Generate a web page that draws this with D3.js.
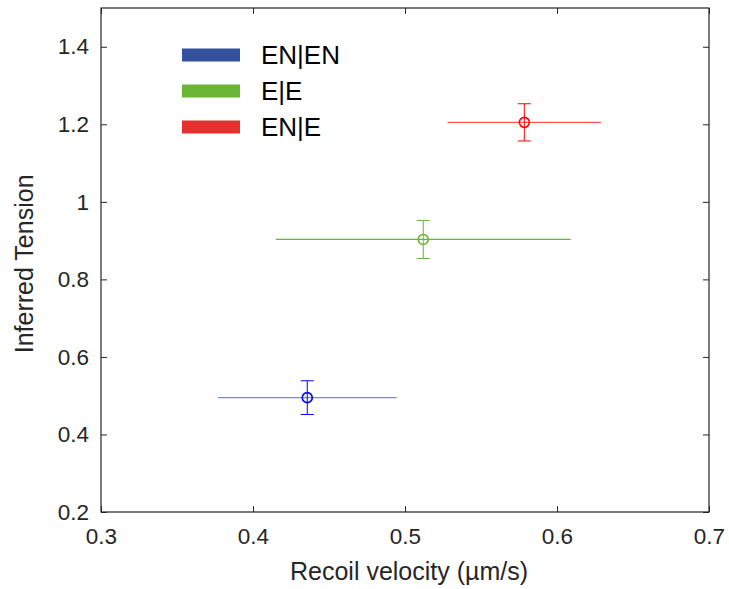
<!DOCTYPE html>
<html>
<head>
<meta charset="utf-8">
<script src="https://cdn.jsdelivr.net/npm/d3@7"></script>
<style>
  body { margin: 0; background: #fff; }
  text { font-family: "Liberation Sans", Arial, sans-serif; fill: #262626; }
</style>
</head>
<body>
<svg id="chart"></svg>
<script>
// data
var groups = ["EN|EN", "E|E", "EN|E"];
var velocity = [0.4357, 0.512, 0.5785];
var velLow = [0.377, 0.415, 0.528];
var velHigh = [0.4945, 0.609, 0.629];
var tension = [0.495, 0.903, 1.205];
var tensionErr = [0.0435, 0.049, 0.048];
var markColors = ["#0000ff", "#6ab536", "#ff0000"];
var hbarColors = ["#8080ff", "#6ab536", "#ff5555"];
var legendColors = ["#34509f", "#6ab536", "#e53030"];
var xTicks = [0.3, 0.4, 0.5, 0.6, 0.7];
var yTicks = [0.2, 0.4, 0.6, 0.8, 1, 1.2, 1.4];

var W = 729, H = 589;
var margin = {top: 8, right: 20, bottom: 77, left: 101},
  width = W - margin.left - margin.right,
  height = H - margin.top - margin.bottom;

var svg = d3.select("#chart")
  .attr("width", W)
  .attr("height", H)
.append("g")
  .attr("transform", "translate(" + margin.left + "," + margin.top + ")");

var x = d3.scaleLinear().domain([0.3, 0.7]).range([0, width]);
var y = d3.scaleLinear().domain([0.2, 1.5]).range([height, 0]);

var axisColor = "#262626";

// box
svg.append("rect")
  .attr("width", width).attr("height", height)
  .attr("fill", "none").attr("stroke", axisColor).attr("stroke-width", 1.2);

// inward ticks on all four sides
function styleAxis(g) {
  g.select(".domain").remove();
  g.selectAll(".tick line").attr("stroke", axisColor);
  g.selectAll(".tick text").style("font-size", "22.5px").attr("fill", axisColor);
}

svg.append("g")
  .attr("transform", "translate(0," + height + ")")
  .call(d3.axisBottom(x).tickValues(xTicks).tickSize(-6).tickPadding(16).tickFormat(d3.format("")))
  .call(styleAxis)
  .selectAll(".tick text").attr("dy", "0.71em");

svg.append("g")
  .call(d3.axisTop(x).tickValues(xTicks).tickSize(-6).tickFormat(""))
  .call(styleAxis);

svg.append("g")
  .call(d3.axisLeft(y).tickValues(yTicks).tickSize(-6).tickPadding(12).tickFormat(d3.format("")))
  .call(styleAxis);

svg.append("g")
  .attr("transform", "translate(" + width + ",0)")
  .call(d3.axisRight(y).tickValues(yTicks).tickSize(-6).tickFormat(""))
  .call(styleAxis);

// axis titles
svg.append("text")
  .attr("x", width / 2 + 4).attr("y", height + 68)
  .attr("text-anchor", "middle")
  .style("font-size", "25px")
  .text("Recoil velocity (µm/s)");

svg.append("text")
  .attr("transform", "translate(-68," + y(0.84) + ") rotate(-90)")
  .attr("text-anchor", "middle")
  .style("font-size", "25px")
  .text("Inferred Tension");

// error bars
var idx = d3.range(groups.length);

svg.selectAll(".hbar")
  .data(idx).enter().append("line")
  .attr("x1", function(i) { return x(velLow[i]); })
  .attr("x2", function(i) { return x(velHigh[i]); })
  .attr("y1", function(i) { return y(tension[i]); })
  .attr("y2", function(i) { return y(tension[i]); })
  .attr("stroke", function(i) { return hbarColors[i]; })
  .attr("stroke-width", 1.3);

svg.selectAll(".vbar")
  .data(idx).enter().append("line")
  .attr("x1", function(i) { return x(velocity[i]); })
  .attr("x2", function(i) { return x(velocity[i]); })
  .attr("y1", function(i) { return y(tension[i] - tensionErr[i]); })
  .attr("y2", function(i) { return y(tension[i] + tensionErr[i]); })
  .attr("stroke", function(i) { return markColors[i]; })
  .attr("stroke-width", 1);

[-1, 1].forEach(function(s) {
  svg.selectAll(".cap" + s)
    .data(idx).enter().append("line")
    .attr("x1", function(i) { return x(velocity[i]) - 6.5; })
    .attr("x2", function(i) { return x(velocity[i]) + 6.5; })
    .attr("y1", function(i) { return y(tension[i] + s * tensionErr[i]); })
    .attr("y2", function(i) { return y(tension[i] + s * tensionErr[i]); })
    .attr("stroke", function(i) { return markColors[i]; })
    .attr("stroke-width", 1);
});

svg.selectAll(".pt")
  .data(idx).enter().append("circle")
  .attr("cx", function(i) { return x(velocity[i]); })
  .attr("cy", function(i) { return y(tension[i]); })
  .attr("r", 5)
  .attr("fill", "none")
  .attr("stroke", function(i) { return markColors[i]; })
  .attr("stroke-width", 1.6);

// legend
var legend = svg.append("g").attr("transform", "translate(81,47)");
legend.selectAll("rect")
  .data(idx).enter().append("rect")
  .attr("x", 0).attr("y", function(i) { return i * 36 - 6.5; })
  .attr("width", 58).attr("height", 13)
  .attr("fill", function(i) { return legendColors[i]; });
legend.selectAll("text")
  .data(idx).enter().append("text")
  .attr("x", 79).attr("y", function(i) { return i * 36; })
  .attr("dy", "0.36em")
  .style("font-size", "26px")
  .style("fill", "#000")
  .text(function(i) { return groups[i]; });
</script>
</body>
</html>
